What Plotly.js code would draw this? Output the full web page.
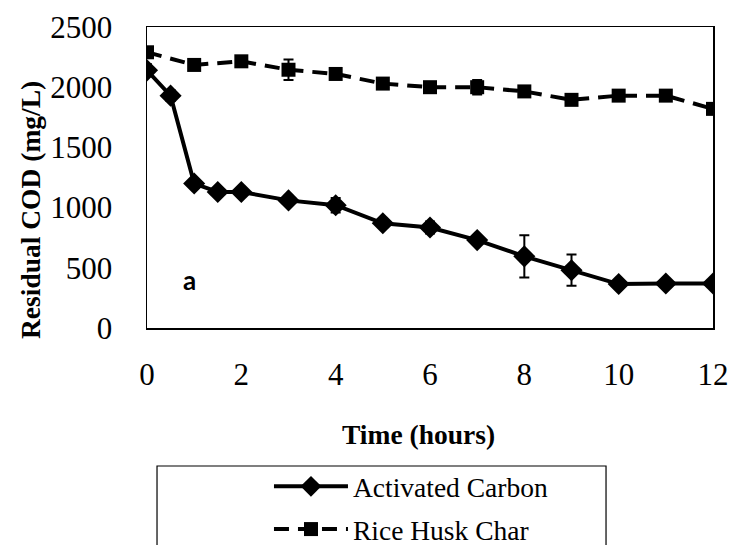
<!DOCTYPE html>
<html><head><meta charset="utf-8">
<script src="https://cdn.plot.ly/plotly-3.0.1.min.js"></script>
<style>body{margin:0;padding:0;background:#fff}#chart{width:730px;height:545px}</style>
</head><body><div id="chart"></div>
<script>
const timeAC = [0, 0.5, 1, 1.5, 2, 3, 4, 5, 6, 7, 8, 9, 10, 11, 12];
const codAC = [2140, 1930, 1200, 1130, 1130, 1060, 1020, 870, 835, 730, 595, 480, 365, 370, 370];
const errAC = [50, 45, 20, 20, 20, 20, 60, 20, 50, 20, 175, 130, 15, 15, 15];
const timeRHC = [0, 1, 2, 3, 4, 5, 6, 7, 8, 9, 10, 11, 12];
const codRHC = [2290, 2185, 2215, 2145, 2110, 2030, 2000, 2000, 1965, 1895, 1930, 1930, 1820];
const errRHC = [20, 20, 20, 85, 20, 20, 20, 60, 20, 20, 20, 20, 20];
const xTicks = [0, 2, 4, 6, 8, 10, 12];
const yTicks = [0, 500, 1000, 1500, 2000, 2500];
const seriesNames = ["Activated Carbon", "Rice Husk Char"];
const xTitle = "Time (hours)";
const yTitle = "Residual COD (mg/L)";
const panelLabel = "a";

const serif = "Liberation Serif, Times New Roman, serif";
const traces = [
  {x: timeAC, y: codAC, name: seriesNames[0], legendgroup: "g1", type: "scatter", mode: "lines+markers",
   line: {color: "#000", width: 4},
   marker: {symbol: "diamond", size: 17, color: "#000"},
   error_y: {type: "data", array: errAC, visible: true, color: "#000", thickness: 2, width: 5}},
  {x: timeRHC, y: codRHC, name: seriesNames[1], legendgroup: "g2", type: "scatter", mode: "lines+markers",
   line: {color: "#000", width: 4, dash: "15px,9px"},
   marker: {symbol: "square", size: 14, color: "#000"},
   error_y: {type: "data", array: errRHC, visible: true, color: "#000", thickness: 2, width: 5}}
];
const layout = {
  width: 730, height: 545,
  margin: {l: 147, r: 17, t: 27, b: 217, autoexpand: false},
  paper_bgcolor: "#fff", plot_bgcolor: "#fff",
  font: {family: serif, size: 31, color: "#000"},
  showlegend: true,
  legend: {x: 0.2155, xanchor: "left", y: -0.445, yanchor: "top", bgcolor: "rgba(0,0,0,0)",
           borderwidth: 0, font: {family: serif, size: 27.5, color: "#000"}, itemwidth: 74,
           traceorder: "grouped", tracegroupgap: 4},
  xaxis: {range: [0, 12], tickvals: xTicks, ticks: "", showgrid: false, zeroline: false,
          showline: true, linecolor: "#000", linewidth: 1.5, mirror: true,
          ticklabelstandoff: 18, tickfont: {family: serif, size: 31, color: "#000"}},
  yaxis: {range: [0, 2500], tickvals: yTicks, ticks: "", showgrid: false, zeroline: false,
          showline: true, linecolor: "#000", linewidth: 1.5, mirror: true,
          ticklabelstandoff: 27, tickfont: {family: serif, size: 31, color: "#000"}},
  annotations: [
    {x: 0.9, y: 400, xref: "x", yref: "y", text: "<b>" + panelLabel + "</b>", showarrow: false,
     font: {family: "Lato, sans-serif", size: 26, color: "#000"}},
    {x: 0.4788, y: -0.355, xref: "paper", yref: "paper", text: "<b>" + xTitle + "</b>", showarrow: false,
     xanchor: "center", yanchor: "middle", font: {family: serif, size: 27.5, color: "#000"}},
    {x: -0.2067, y: 0.392, xref: "paper", yref: "paper", text: "<b>" + yTitle + "</b>", showarrow: false,
     textangle: -90, xanchor: "center", yanchor: "middle", font: {family: serif, size: 27.5, color: "#000"}}
  ],
  shapes: [{type: "rect", xref: "paper", yref: "paper", x0: 0.0177, x1: 0.811, y0: -0.75, y1: -0.4585,
    line: {color: "#000", width: 1.2}, fillcolor: "rgba(0,0,0,0)"}]
};
Plotly.newPlot("chart", traces, layout, {staticPlot: true});
</script></body></html>
